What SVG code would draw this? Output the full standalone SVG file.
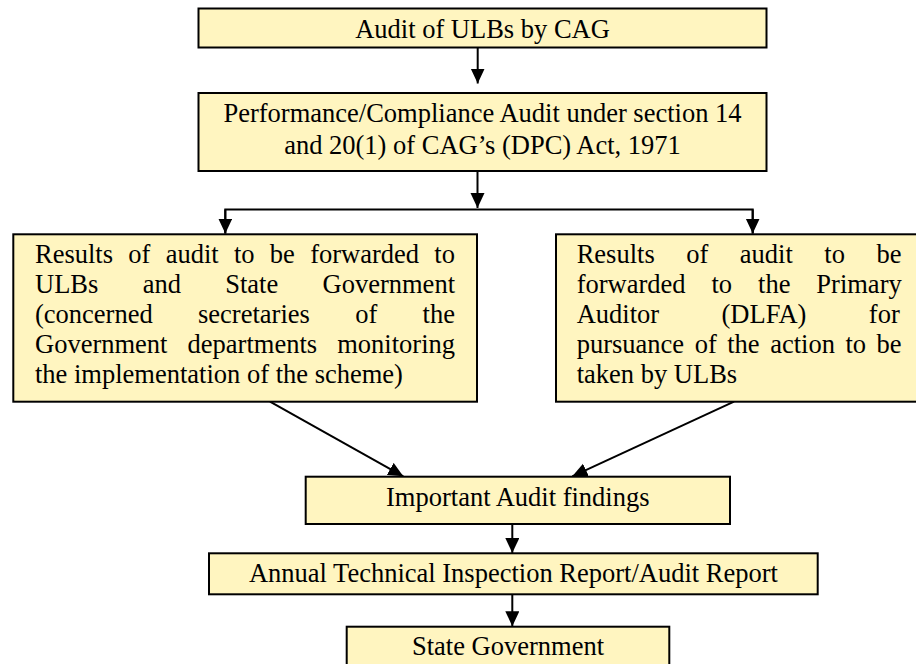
<svg xmlns="http://www.w3.org/2000/svg" width="916" height="664" viewBox="0 0 916 664">
<defs>
<marker id="ah" markerUnits="userSpaceOnUse" markerWidth="15" markerHeight="15" refX="15" refY="7" orient="auto">
<path d="M0,0 L15,7 L0,14 z" fill="#000"/>
</marker>
<style>
.box{fill:#FFF5C0;stroke:#000;stroke-width:2}
text{font-family:'Liberation Serif','DejaVu Serif',serif;font-size:26.5px;fill:#000}
.c{text-anchor:middle}
.ln{fill:none;stroke:#000;stroke-width:2}
</style>
</defs>
<rect width="916" height="664" fill="#fff"/>
<g id="connectors">
<line class="ln" x1="477.7" y1="47.5" x2="477.7" y2="83.5" marker-end="url(#ah)"/>
<line class="ln" x1="477.5" y1="171" x2="477.5" y2="208" marker-end="url(#ah)"/>
<polyline class="ln" points="225.3,233.5 225.3,209.5 752.7,209.5 752.7,233.5"/>
<line class="ln" x1="225.3" y1="209.5" x2="225.3" y2="233.5" marker-end="url(#ah)"/>
<line class="ln" x1="752.7" y1="209.5" x2="752.7" y2="233.5" marker-end="url(#ah)"/>
<line class="ln" x1="270" y1="401.7" x2="403.3" y2="476.3" marker-end="url(#ah)"/>
<line class="ln" x1="734" y1="401.7" x2="572.3" y2="476.3" marker-end="url(#ah)"/>
<line class="ln" x1="512.3" y1="524" x2="512.3" y2="553" marker-end="url(#ah)"/>
<line class="ln" x1="512.3" y1="594.3" x2="512.3" y2="626.3" marker-end="url(#ah)"/>
</g>
<g font-family="Liberation Serif, DejaVu Serif, serif">
<g id="n1">
<rect class="box" x="198.5" y="8.5" width="568" height="39"/>
<text class="c" x="482.5" y="37.5">Audit of ULBs by CAG</text>
</g>
<g id="n2">
<rect class="box" x="198.5" y="93" width="568" height="78"/>
<text class="c" x="482.5" y="121.7">Performance/Compliance Audit under section 14</text>
<text class="c" x="482.5" y="154">and 20(1) of CAG’s (DPC) Act, 1971</text>
</g>
<g id="n3">
<rect class="box" x="13.3" y="234.3" width="463.7" height="167.4"/>
<text x="35" y="263.3" word-spacing="8.66">Results of audit to be forwarded to</text>
<text x="35" y="293.3" word-spacing="37.7">ULBs and State Government</text>
<text x="35" y="323.3" word-spacing="38.7">(concerned secretaries of the</text>
<text x="35" y="353.3" word-spacing="13.5">Government departments monitoring</text>
<text x="35" y="383.3">the implementation of the scheme)</text>
</g>
<g id="n4">
<rect class="box" x="556" y="234.3" width="368" height="167.4"/>
<text x="576.7" y="263.3" word-spacing="24.9">Results of audit to be</text>
<text x="576.7" y="293.3" word-spacing="19.3">forwarded to the Primary</text>
<text x="576.7" y="323.3" word-spacing="55.8">Auditor (DLFA) for</text>
<text x="576.7" y="353.3" word-spacing="3.9">pursuance of the action to be</text>
<text x="576.7" y="383.3">taken by ULBs</text>
</g>
<g id="n5">
<rect class="box" x="305.7" y="476.7" width="424.3" height="47.3"/>
<text class="c" x="517.8" y="506">Important Audit findings</text>
</g>
<g id="n6">
<rect class="box" x="209" y="553.3" width="608.7" height="41"/>
<text class="c" x="513.4" y="582.3">Annual Technical Inspection Report/Audit Report</text>
</g>
<g id="n7">
<rect class="box" x="346.7" y="626.7" width="322.6" height="45"/>
<text class="c" x="508" y="655.3">State Government</text>
</g>
</g>
</svg>
